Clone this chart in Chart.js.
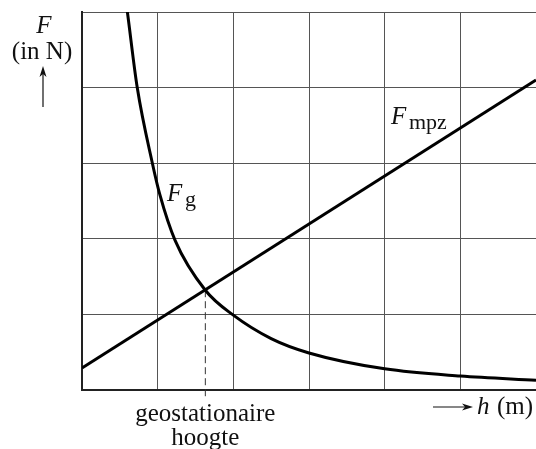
<!DOCTYPE html>
<html>
<head>
<meta charset="utf-8">
<script src="https://cdn.jsdelivr.net/npm/chart.js@4/dist/chart.umd.min.js"></script>
<style>
  body { margin: 0; background: #fff; }
  canvas { display: block; }
</style>
</head>
<body>
<canvas id="grafico" width="536" height="449"></canvas>
<script>
// hoogte h (in rastereenheden) en kracht F
const fgH = [0.56, 0.6, 0.73, 0.93, 1.03, 1.23, 1.63, 2.0, 2.5, 3.0, 4.0, 5.0, 6.0];
const fgF = [5.3, 5.0, 4.0, 3.0, 2.58, 1.98, 1.32, 0.99, 0.68, 0.49, 0.28, 0.185, 0.13];

const mpzH = [0, 6];
const mpzF = [0.29, 4.1];

// snijpunt (geostationaire hoogte)
const geoH = [1.63, 1.63];
const geoF = [1.32, -0.1];

const xTicks = [0, 1, 2, 3, 4, 5, 6];
const yTicks = [0, 1, 2, 3, 4, 5];

const toPts = (xs, ys) => xs.map((x, i) => ({ x: x, y: ys[i] }));

const serif = '"Liberation Serif", "DejaVu Serif", serif';

function pijl(ctx, x1, y1, x2, y2) {
  const hoek = Math.atan2(y2 - y1, x2 - x1);
  ctx.beginPath();
  ctx.moveTo(x1, y1);
  ctx.lineTo(x2 - 6 * Math.cos(hoek), y2 - 6 * Math.sin(hoek));
  ctx.stroke();
  ctx.beginPath();
  ctx.moveTo(x2, y2);
  ctx.lineTo(x2 - 11 * Math.cos(hoek) + 3.5 * Math.sin(hoek), y2 - 11 * Math.sin(hoek) - 3.5 * Math.cos(hoek));
  ctx.lineTo(x2 - 8 * Math.cos(hoek), y2 - 8 * Math.sin(hoek));
  ctx.lineTo(x2 - 11 * Math.cos(hoek) - 3.5 * Math.sin(hoek), y2 - 11 * Math.sin(hoek) + 3.5 * Math.cos(hoek));
  ctx.closePath();
  ctx.fill();
}

// teksten en pijlen rond de grafiek
const labelsPlugin = {
  id: "labels",
  afterDraw(chart) {
    const ctx = chart.ctx;
    const xs = chart.scales.x;
    ctx.save();
    ctx.fillStyle = "#111";
    ctx.strokeStyle = "#111";
    ctx.lineWidth = 1.2;
    ctx.textBaseline = "alphabetic";

    // y-as label
    ctx.textAlign = "center";
    ctx.font = "italic 25px " + serif;
    ctx.fillText("F", 44, 33);
    ctx.font = "25px " + serif;
    ctx.fillText("(in N)", 42, 59);
    pijl(ctx, 43, 107, 43, 66);

    // x-as label
    pijl(ctx, 433, 407, 473, 407);
    ctx.textAlign = "left";
    ctx.font = "italic 25px " + serif;
    ctx.fillText("h", 477, 414);
    ctx.font = "25px " + serif;
    ctx.fillText("(m)", 497, 414);

    // geostationaire hoogte
    ctx.textAlign = "center";
    const gx = xs.getPixelForValue(geoH[0]);
    ctx.fillText("geostationaire", gx, 421);
    ctx.fillText("hoogte", gx, 445);

    // F_mpz
    ctx.textAlign = "left";
    ctx.font = "italic 25px " + serif;
    ctx.fillText("F", 391, 124);
    ctx.font = "22px " + serif;
    ctx.fillText("mpz", 409, 129);

    // F_g
    ctx.font = "italic 25px " + serif;
    ctx.fillText("F", 167, 201);
    ctx.font = "22px " + serif;
    ctx.fillText("g", 185, 206);

    ctx.restore();
  },
};

new Chart(document.getElementById("grafico"), {
  type: "scatter",
  data: {
    datasets: [
      {
        label: "Fg",
        data: toPts(fgH, fgF),
        showLine: true,
        borderColor: "#000",
        borderWidth: 3,
        pointRadius: 0,
        cubicInterpolationMode: "monotone",
        clip: 0,
      },
      {
        label: "Fmpz",
        data: toPts(mpzH, mpzF),
        showLine: true,
        borderColor: "#000",
        borderWidth: 3,
        pointRadius: 0,
        clip: 0,
      },
      {
        label: "geo",
        data: toPts(geoH, geoF),
        showLine: true,
        borderColor: "#333",
        borderWidth: 1,
        borderDash: [7, 4],
        pointRadius: 0,
        clip: false,
      },
    ],
  },
  options: {
    responsive: false,
    animation: false,
    layout: { padding: { left: 82, top: 12, right: 0, bottom: 59 } },
    plugins: {
      legend: { display: false },
      tooltip: { enabled: false },
    },
    scales: {
      x: {
        type: "linear",
        min: 0,
        max: 6,
        afterBuildTicks: (axis) => { axis.ticks = xTicks.map((v) => ({ value: v })); },
        ticks: { display: false },
        grid: { color: "#555", lineWidth: 1, drawTicks: false },
        border: { display: true, color: "#222", width: 2 },
      },
      y: {
        type: "linear",
        min: 0,
        max: 5,
        afterBuildTicks: (axis) => { axis.ticks = yTicks.map((v) => ({ value: v })); },
        ticks: { display: false },
        grid: { color: "#555", lineWidth: 1, drawTicks: false },
        border: { display: true, color: "#222", width: 2 },
      },
    },
  },
  plugins: [labelsPlugin],
});
</script>
</body>
</html>
